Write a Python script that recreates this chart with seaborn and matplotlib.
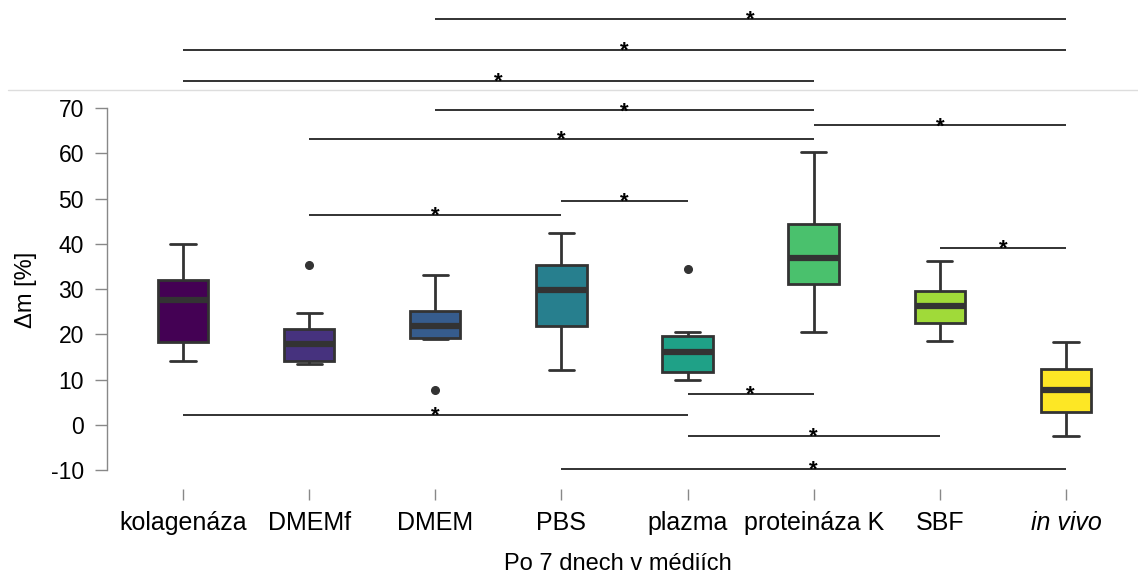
import matplotlib
matplotlib.use("Agg")
import matplotlib.pyplot as plt
from matplotlib.lines import Line2D
import seaborn as sns
import pandas as pd
import numpy as np

# Mass change after 7 days in each medium
categories = ["kolagenáza", "DMEMf", "DMEM", "PBS", "plazma", "proteináza K", "SBF", "in vivo"]
kolagenaza = [14.2, 18.4, 27.6, 32.0, 40.0]
dmemf = [13.5, 14.2, 14.2, 17.8, 17.8, 21.1, 21.1, 24.6, 35.3]
dmem = [7.7, 18.9, 19.1, 19.1, 21.9, 25.2, 25.2, 33.1, 33.1]
pbs = [12.0, 21.8, 29.8, 35.3, 42.3]
plazma = [10.0, 11.6, 11.6, 16.0, 16.0, 19.7, 19.7, 20.4, 34.5]
proteinaza_k = [20.4, 31.1, 36.8, 44.4, 60.2]
sbf = [18.6, 22.4, 26.3, 29.6, 36.2]
in_vivo = [-2.5, 2.9, 7.6, 12.3, 18.2]
groups = [kolagenaza, dmemf, dmem, pbs, plazma, proteinaza_k, sbf, in_vivo]

# Significant pairs (indices into categories) and bracket heights
sig_left = [2, 0, 0, 2, 5, 1, 1, 3, 6, 4, 0, 4, 3]
sig_right = [7, 7, 5, 5, 7, 5, 3, 4, 7, 5, 4, 6, 7]
sig_y = [89.7, 82.8, 76.0, 69.5, 66.2, 63.2, 46.4, 49.5, 39.1, 6.8, 2.2, -2.5, -9.7]
sig_mark = ["*"] * len(sig_y)

yticks = [-10, 0, 10, 20, 30, 40, 50, 60, 70]

rows = [(c, v) for c, vals in zip(categories, groups) for v in vals]
df = pd.DataFrame(rows, columns=["medium", "dm"])

sns.set_style("white")
plt.rcParams["font.family"] = ["Liberation Sans", "DejaVu Sans"]
plt.rcParams["text.color"] = "black"
plt.rcParams["axes.labelcolor"] = "black"
plt.rcParams["xtick.color"] = "black"
plt.rcParams["ytick.color"] = "black"

fig = plt.figure(figsize=(11.38, 5.75), dpi=100)
ax = fig.add_axes([107 / 1138, 1 - 489 / 575, (1129 - 107) / 1138, (489 - 90) / 575])

colors = [plt.cm.viridis(v) for v in np.linspace(0, 1, len(categories))]

sns.boxplot(
    data=df, x="medium", y="dm", hue="medium", order=categories,
    hue_order=categories, palette=colors, saturation=1, width=0.4,
    legend=False, linecolor="#333333", linewidth=2,
    medianprops=dict(linewidth=4.5, color="#333333"),
    flierprops=dict(marker="o", markersize=5.5, markerfacecolor="#333333",
                    markeredgecolor="#333333"),
    ax=ax,
)

ax.set_xlim(-0.6025, 7.5)
ax.set_ylim(-14.2, 74.0)
ax.set_yticks(yticks)
ax.set_yticklabels([str(t) for t in yticks], fontsize=16.5)
ax.set_xticks(range(len(categories)))
ax.set_xticklabels(categories, fontsize=18)
ax.get_xticklabels()[-1].set_style("italic")

for s in ["top", "right", "bottom"]:
    ax.spines[s].set_visible(False)
ax.spines["left"].set_bounds(-10, 70)
ax.spines["left"].set_color("#888888")
ax.spines["left"].set_linewidth(1)
ax.tick_params(axis="y", left=True, length=8.6, width=1, color="#888888",
               labelcolor="black", pad=8)
ax.tick_params(axis="x", bottom=True, length=8, width=1, color="#888888",
               labelcolor="black", pad=8)

ax.set_xlabel("Po 7 dnech v médiích", fontsize=17, labelpad=13, color="black")
ax.set_ylabel("Δm [%]", fontsize=17, labelpad=10, color="black")

for a, b, y, m in zip(sig_left, sig_right, sig_y, sig_mark):
    ax.plot([a, b], [y, y], color="#222222", lw=1.3, clip_on=False,
            solid_capstyle="butt")
    ax.annotate(m, xy=((a + b) / 2, y), xytext=(0, -5),
                textcoords="offset points", ha="center", va="baseline",
                fontsize=16, fontweight="bold", color="black",
                annotation_clip=False)

fig.add_artist(Line2D([8 / 1138, 1.0], [1 - 90 / 575] * 2,
                      color="#dddddd", lw=1, transform=fig.transFigure))

fig.savefig("out.png", dpi=100)
